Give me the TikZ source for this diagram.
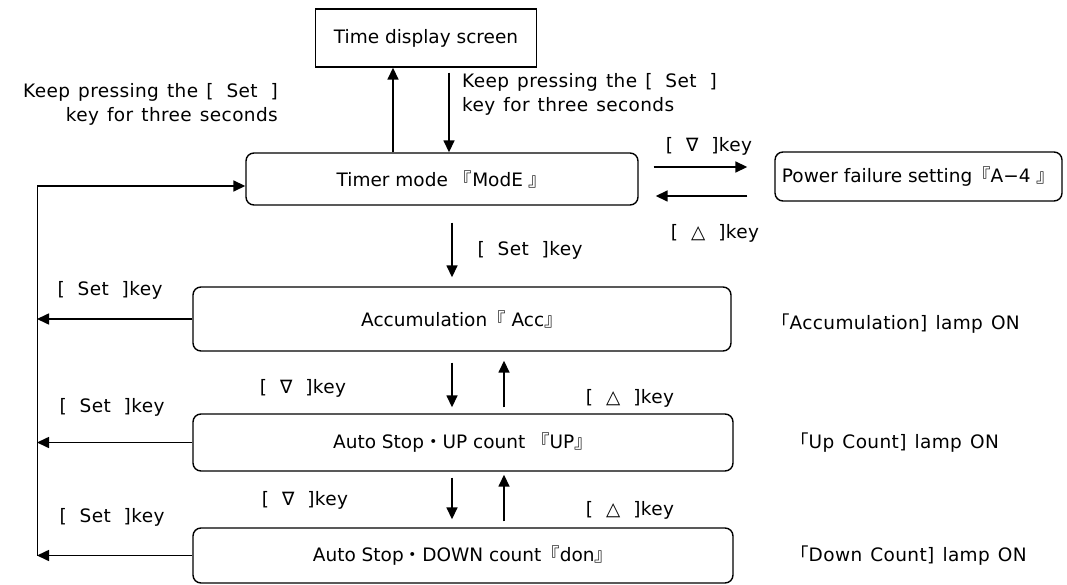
\documentclass[tikz,border=0pt]{standalone}
\usepackage{fontspec}
\setmainfont{DejaVu Sans}
\newfontfamily\notefont[WordSpace=1.3,LetterSpace=2]{DejaVu Sans}
\newfontfamily\jp{Noto Sans CJK JP}
\newcommand\jq[1]{{\jp #1}}
\newcommand\ws{\hspace{0.7em}}
\usetikzlibrary{arrows.meta}

\tikzset{
  plainbox/.style={draw,line width=1.4pt,inner sep=0pt},
  modebox/.style={plainbox,rounded corners=8pt},
  arr/.style={line width=1.6pt,-{Triangle[length=12pt,width=11pt]}},
  note/.style={inner sep=0pt,font=\notefont\fontsize{18.5}{24}\selectfont}
}

\begin{document}
\begin{tikzpicture}[x=1pt,y=-1pt,font=\fontsize{18.5}{24}\selectfont]
  \useasboundingbox (0,0) rectangle (1067,585);

  % boxes
  \node[plainbox,minimum width=221pt,minimum height=58pt] (time) at (426,38) {Time display screen};
  \node[modebox,minimum width=392pt,minimum height=52pt] (timer) at (442,179) {Timer mode \jq{『}ModE \jq{』}};
  \node[modebox,minimum width=287pt,minimum height=49pt] (power) at (918.5,176.5) {Power failure setting\jq{『}A−4 \jq{』}};
  \node[modebox,minimum width=538pt,minimum height=64pt] (acc) at (462,319) {Accumulation\jq{『} Acc\jq{』}};
  \node[modebox,minimum width=540pt,minimum height=57pt] (up) at (463,442.5) {Auto Stop\jq{・}UP count \jq{『}UP\jq{』}};
  \node[modebox,minimum width=540pt,minimum height=55pt] (down) at (463,555.5) {Auto Stop\jq{・}DOWN count\jq{『}don\jq{』}};

  % time display <-> timer mode
  \coordinate (upx) at (393,0);
  \coordinate (dnx) at (449,0);
  \draw[arr] (timer.north -| upx) -- (time.south -| upx);
  \draw[arr,shorten <=5pt] (time.south -| dnx) -- (timer.north -| dnx);
  \node[note,anchor=east,align=right] (keepL) at (278,104) {Keep pressing the [\ws Set\ws]\\key for three seconds};
  \node[note,anchor=west,align=left] (keepR) at (462,94) {Keep pressing the [\ws Set\ws]\\key for three seconds};

  % timer mode <-> power failure
  \coordinate (ra) at (0,167);
  \coordinate (la) at (0,196);
  \draw[arr,shorten <=15pt,shorten >=27pt] (timer.east |- ra) -- (power.west |- ra);
  \draw[arr,shorten <=27pt,shorten >=17pt] (power.west |- la) -- (timer.east |- la);
  \node[note] (dnkey0) at (709,146) {[\ws∇\ws]key};
  \node[note] (upkey0) at (715,233) {[\ws△\ws]key};

  % timer mode -> accumulation
  \coordinate (mx) at (452,0);
  \coordinate (nx) at (504,0);
  \draw[arr,shorten <=17pt,shorten >=9pt] (timer.south -| mx) -- (acc.north -| mx);
  \node[note] (setkey0) at (530,250) {[\ws Set\ws]key};

  % accumulation <-> up <-> down
  \draw[arr,shorten <=11pt,shorten >=6pt] (acc.south -| mx) -- (up.north -| mx);
  \draw[arr,shorten <=6pt,shorten >=9pt] (up.north -| nx) -- (acc.south -| nx);
  \node[note] (dnkey1) at (303,388) {[\ws∇\ws]key};
  \node[note] (upkey1) at (630,398) {[\ws△\ws]key};
  \draw[arr,shorten <=6pt,shorten >=8pt] (up.south -| mx) -- (down.north -| mx);
  \draw[arr,shorten <=6pt,shorten >=3pt] (down.north -| nx) -- (up.south -| nx);
  \node[note] (dnkey2) at (305,500) {[\ws∇\ws]key};
  \node[note] (upkey2) at (630,510) {[\ws△\ws]key};

  % return rail on the left
  \coordinate (rail) at (37,186);
  \draw[line width=1pt] (rail) -- (rail |- down.west);
  \draw[arr] (rail) -- (timer.west |- rail);
  \foreach \b in {acc,up,down}
    \draw[arr] (\b.west) -- (\b.west -| rail);
  \node[note] (setL1) at (110,290) {[\ws Set\ws]key};
  \node[note] (setL2) at (112,407) {[\ws Set\ws]key};
  \node[note] (setL3) at (112,517) {[\ws Set\ws]key};

  % lamps
  \node[note,anchor=west] (lamp1) at (771,324) {\jq{「}Accumulation] lamp ON};
  \node[note,anchor=west] (lamp2) at (790,443) {\jq{「}Up Count] lamp ON};
  \node[note,anchor=west] (lamp3) at (790,556) {\jq{「}Down Count] lamp ON};
\end{tikzpicture}
\end{document}
